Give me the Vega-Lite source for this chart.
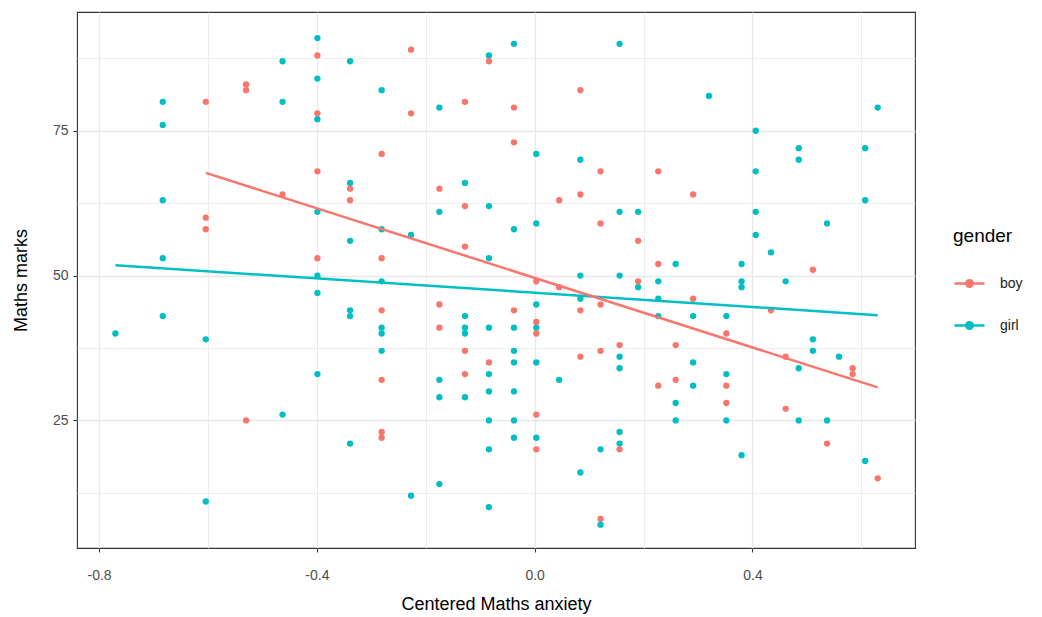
{
"$schema": "https://vega.github.io/schema/vega-lite/v6.json",
"width": 838, "height": 536,
"autosize": {"type": "none"},
"padding": {"left": 77, "top": 12, "right": 127, "bottom": 69},
"background": "white",
"config": {
  "font": "Liberation Sans",
  "view": {"stroke": "#333333", "strokeWidth": 1.1},
  "axis": {"domain": false, "grid": true, "gridColor": "#E8E8E8", "tickSize": 4, "tickWidth": 1.1, "labelColor": "#4D4D4D", "labelFontSize": 14, "titleFontSize": 18, "titleFontWeight": "normal", "titleColor": "#000000", "labelFont": "Liberation Sans", "titleFont": "Liberation Sans"},
  "legend": {"symbolType": "M-1,0L1,0M-0.22,0A0.22,0.22,0,1,1,0.22,0A0.22,0.22,0,1,1,-0.22,0Z"}
},
"datasets": {"d": [
{"anxiety":-0.77,"marks":40,"gender":"girl"},
{"anxiety":-0.683,"marks":80,"gender":"girl"},{"anxiety":-0.683,"marks":76,"gender":"girl"},{"anxiety":-0.683,"marks":63,"gender":"girl"},{"anxiety":-0.683,"marks":53,"gender":"girl"},{"anxiety":-0.683,"marks":43,"gender":"girl"},
{"anxiety":-0.604,"marks":80,"gender":"boy"},{"anxiety":-0.604,"marks":60,"gender":"boy"},{"anxiety":-0.604,"marks":58,"gender":"boy"},{"anxiety":-0.604,"marks":39,"gender":"girl"},{"anxiety":-0.604,"marks":11,"gender":"girl"},
{"anxiety":-0.53,"marks":83,"gender":"boy"},{"anxiety":-0.53,"marks":82,"gender":"boy"},{"anxiety":-0.53,"marks":25,"gender":"boy"},
{"anxiety":-0.463,"marks":87,"gender":"girl"},{"anxiety":-0.463,"marks":80,"gender":"girl"},{"anxiety":-0.463,"marks":26,"gender":"girl"},{"anxiety":-0.463,"marks":64,"gender":"boy"},
{"anxiety":-0.399,"marks":91,"gender":"girl"},{"anxiety":-0.399,"marks":84,"gender":"girl"},{"anxiety":-0.399,"marks":77,"gender":"girl"},{"anxiety":-0.399,"marks":61,"gender":"girl"},{"anxiety":-0.399,"marks":50,"gender":"girl"},{"anxiety":-0.399,"marks":47,"gender":"girl"},{"anxiety":-0.399,"marks":33,"gender":"girl"},{"anxiety":-0.399,"marks":88,"gender":"boy"},{"anxiety":-0.399,"marks":78,"gender":"boy"},{"anxiety":-0.399,"marks":68,"gender":"boy"},{"anxiety":-0.399,"marks":53,"gender":"boy"},
{"anxiety":-0.339,"marks":87,"gender":"girl"},{"anxiety":-0.339,"marks":66,"gender":"girl"},{"anxiety":-0.339,"marks":56,"gender":"girl"},{"anxiety":-0.339,"marks":44,"gender":"girl"},{"anxiety":-0.339,"marks":43,"gender":"girl"},{"anxiety":-0.339,"marks":21,"gender":"girl"},{"anxiety":-0.339,"marks":65,"gender":"boy"},{"anxiety":-0.339,"marks":63,"gender":"boy"},
{"anxiety":-0.281,"marks":82,"gender":"girl"},{"anxiety":-0.281,"marks":58,"gender":"girl"},{"anxiety":-0.281,"marks":49,"gender":"girl"},{"anxiety":-0.281,"marks":41,"gender":"girl"},{"anxiety":-0.281,"marks":40,"gender":"girl"},{"anxiety":-0.281,"marks":37,"gender":"girl"},{"anxiety":-0.281,"marks":71,"gender":"boy"},{"anxiety":-0.281,"marks":53,"gender":"boy"},{"anxiety":-0.281,"marks":44,"gender":"boy"},{"anxiety":-0.281,"marks":32,"gender":"boy"},{"anxiety":-0.281,"marks":23,"gender":"boy"},{"anxiety":-0.281,"marks":22,"gender":"boy"},
{"anxiety":-0.227,"marks":89,"gender":"boy"},{"anxiety":-0.227,"marks":78,"gender":"boy"},{"anxiety":-0.227,"marks":57,"gender":"girl"},{"anxiety":-0.227,"marks":12,"gender":"girl"},
{"anxiety":-0.175,"marks":79,"gender":"girl"},{"anxiety":-0.175,"marks":61,"gender":"girl"},{"anxiety":-0.175,"marks":32,"gender":"girl"},{"anxiety":-0.175,"marks":29,"gender":"girl"},{"anxiety":-0.175,"marks":14,"gender":"girl"},{"anxiety":-0.175,"marks":65,"gender":"boy"},{"anxiety":-0.175,"marks":45,"gender":"boy"},{"anxiety":-0.175,"marks":41,"gender":"boy"},
{"anxiety":-0.128,"marks":80,"gender":"boy"},{"anxiety":-0.128,"marks":62,"gender":"boy"},{"anxiety":-0.128,"marks":55,"gender":"boy"},{"anxiety":-0.128,"marks":37,"gender":"boy"},{"anxiety":-0.128,"marks":33,"gender":"boy"},{"anxiety":-0.128,"marks":66,"gender":"girl"},{"anxiety":-0.128,"marks":43,"gender":"girl"},{"anxiety":-0.128,"marks":41,"gender":"girl"},{"anxiety":-0.128,"marks":40,"gender":"girl"},{"anxiety":-0.128,"marks":29,"gender":"girl"},
{"anxiety":-0.084,"marks":88,"gender":"girl"},{"anxiety":-0.084,"marks":62,"gender":"girl"},{"anxiety":-0.084,"marks":53,"gender":"girl"},{"anxiety":-0.084,"marks":41,"gender":"girl"},{"anxiety":-0.084,"marks":33,"gender":"girl"},{"anxiety":-0.084,"marks":30,"gender":"girl"},{"anxiety":-0.084,"marks":25,"gender":"girl"},{"anxiety":-0.084,"marks":20,"gender":"girl"},{"anxiety":-0.084,"marks":10,"gender":"girl"},{"anxiety":-0.084,"marks":87,"gender":"boy"},{"anxiety":-0.084,"marks":35,"gender":"boy"},
{"anxiety":-0.038,"marks":90,"gender":"girl"},{"anxiety":-0.038,"marks":58,"gender":"girl"},{"anxiety":-0.038,"marks":41,"gender":"girl"},{"anxiety":-0.038,"marks":37,"gender":"girl"},{"anxiety":-0.038,"marks":35,"gender":"girl"},{"anxiety":-0.038,"marks":30,"gender":"girl"},{"anxiety":-0.038,"marks":25,"gender":"girl"},{"anxiety":-0.038,"marks":22,"gender":"girl"},{"anxiety":-0.038,"marks":79,"gender":"boy"},{"anxiety":-0.038,"marks":73,"gender":"boy"},{"anxiety":-0.038,"marks":44,"gender":"boy"},
{"anxiety":0.003,"marks":71,"gender":"girl"},{"anxiety":0.003,"marks":59,"gender":"girl"},{"anxiety":0.003,"marks":45,"gender":"girl"},{"anxiety":0.003,"marks":41,"gender":"girl"},{"anxiety":0.003,"marks":35,"gender":"girl"},{"anxiety":0.003,"marks":22,"gender":"girl"},{"anxiety":0.003,"marks":49,"gender":"boy"},{"anxiety":0.003,"marks":42,"gender":"boy"},{"anxiety":0.003,"marks":40,"gender":"boy"},{"anxiety":0.003,"marks":26,"gender":"boy"},{"anxiety":0.003,"marks":20,"gender":"boy"},
{"anxiety":0.045,"marks":63,"gender":"boy"},{"anxiety":0.045,"marks":48,"gender":"boy"},{"anxiety":0.045,"marks":32,"gender":"girl"},
{"anxiety":0.084,"marks":82,"gender":"boy"},{"anxiety":0.084,"marks":64,"gender":"boy"},{"anxiety":0.084,"marks":44,"gender":"boy"},{"anxiety":0.084,"marks":36,"gender":"boy"},{"anxiety":0.084,"marks":70,"gender":"girl"},{"anxiety":0.084,"marks":50,"gender":"girl"},{"anxiety":0.084,"marks":46,"gender":"girl"},{"anxiety":0.084,"marks":16,"gender":"girl"},
{"anxiety":0.121,"marks":68,"gender":"boy"},{"anxiety":0.121,"marks":59,"gender":"boy"},{"anxiety":0.121,"marks":45,"gender":"boy"},{"anxiety":0.121,"marks":37,"gender":"boy"},{"anxiety":0.121,"marks":8,"gender":"boy"},{"anxiety":0.121,"marks":20,"gender":"girl"},{"anxiety":0.121,"marks":7,"gender":"girl"},
{"anxiety":0.156,"marks":90,"gender":"girl"},{"anxiety":0.156,"marks":61,"gender":"girl"},{"anxiety":0.156,"marks":50,"gender":"girl"},{"anxiety":0.156,"marks":36,"gender":"girl"},{"anxiety":0.156,"marks":34,"gender":"girl"},{"anxiety":0.156,"marks":23,"gender":"girl"},{"anxiety":0.156,"marks":21,"gender":"girl"},{"anxiety":0.156,"marks":38,"gender":"boy"},{"anxiety":0.156,"marks":20,"gender":"boy"},
{"anxiety":0.19,"marks":61,"gender":"girl"},{"anxiety":0.19,"marks":48,"gender":"girl"},{"anxiety":0.19,"marks":56,"gender":"boy"},{"anxiety":0.19,"marks":49,"gender":"boy"},
{"anxiety":0.227,"marks":68,"gender":"boy"},{"anxiety":0.227,"marks":52,"gender":"boy"},{"anxiety":0.227,"marks":31,"gender":"boy"},{"anxiety":0.227,"marks":49,"gender":"girl"},{"anxiety":0.227,"marks":46,"gender":"girl"},{"anxiety":0.227,"marks":43,"gender":"girl"},
{"anxiety":0.259,"marks":52,"gender":"girl"},{"anxiety":0.259,"marks":28,"gender":"girl"},{"anxiety":0.259,"marks":25,"gender":"girl"},{"anxiety":0.259,"marks":38,"gender":"boy"},{"anxiety":0.259,"marks":32,"gender":"boy"},
{"anxiety":0.291,"marks":64,"gender":"boy"},{"anxiety":0.291,"marks":46,"gender":"boy"},{"anxiety":0.291,"marks":43,"gender":"girl"},{"anxiety":0.291,"marks":35,"gender":"girl"},{"anxiety":0.291,"marks":31,"gender":"girl"},
{"anxiety":0.32,"marks":81,"gender":"girl"},
{"anxiety":0.352,"marks":43,"gender":"girl"},{"anxiety":0.352,"marks":33,"gender":"girl"},{"anxiety":0.352,"marks":25,"gender":"girl"},{"anxiety":0.352,"marks":40,"gender":"boy"},{"anxiety":0.352,"marks":31,"gender":"boy"},{"anxiety":0.352,"marks":28,"gender":"boy"},
{"anxiety":0.38,"marks":52,"gender":"girl"},{"anxiety":0.38,"marks":49,"gender":"girl"},{"anxiety":0.38,"marks":48,"gender":"girl"},{"anxiety":0.38,"marks":19,"gender":"girl"},
{"anxiety":0.406,"marks":75,"gender":"girl"},{"anxiety":0.406,"marks":68,"gender":"girl"},{"anxiety":0.406,"marks":61,"gender":"girl"},{"anxiety":0.406,"marks":57,"gender":"girl"},
{"anxiety":0.434,"marks":54,"gender":"girl"},{"anxiety":0.434,"marks":44,"gender":"boy"},
{"anxiety":0.461,"marks":49,"gender":"girl"},{"anxiety":0.461,"marks":36,"gender":"boy"},{"anxiety":0.461,"marks":27,"gender":"boy"},
{"anxiety":0.485,"marks":72,"gender":"girl"},{"anxiety":0.485,"marks":70,"gender":"girl"},{"anxiety":0.485,"marks":34,"gender":"girl"},{"anxiety":0.485,"marks":25,"gender":"girl"},
{"anxiety":0.511,"marks":51,"gender":"boy"},{"anxiety":0.511,"marks":39,"gender":"girl"},{"anxiety":0.511,"marks":37,"gender":"girl"},
{"anxiety":0.537,"marks":59,"gender":"girl"},{"anxiety":0.537,"marks":25,"gender":"girl"},{"anxiety":0.537,"marks":21,"gender":"boy"},
{"anxiety":0.559,"marks":36,"gender":"girl"},
{"anxiety":0.584,"marks":34,"gender":"boy"},{"anxiety":0.584,"marks":33,"gender":"boy"},
{"anxiety":0.607,"marks":72,"gender":"girl"},{"anxiety":0.607,"marks":63,"gender":"girl"},{"anxiety":0.607,"marks":18,"gender":"girl"},
{"anxiety":0.63,"marks":79,"gender":"girl"},{"anxiety":0.63,"marks":15,"gender":"boy"}
]},
"data": {"name": "d"},
"layer": [
  {
    "mark": {"type": "point", "filled": true, "opacity": 1, "size": 40},
    "encoding": {
      "x": {"field": "anxiety", "type": "quantitative",
        "scale": {"domain": [-0.8405, 0.6985], "nice": false, "zero": false},
        "axis": {"values": [-0.8, -0.6, -0.4, -0.2, 0, 0.2, 0.4, 0.6], "format": ".1f",
          "labelExpr": "abs(round(datum.value*5)) % 2 == 1 ? '' : replace(datum.label, '\u2212', '-')",
          "tickColor": {"condition": {"test": "abs(round(datum.value*5)) % 2 == 1", "value": "transparent"}, "value": "#333333"},
          "gridWidth": {"condition": {"test": "abs(round(datum.value*5)) % 2 == 1", "value": 0.8}, "value": 1.3},
          "title": "Centered Maths anxiety", "labelPadding": 16, "titlePadding": 13}},
      "y": {"field": "marks", "type": "quantitative",
        "scale": {"domain": [2.97, 95.5], "nice": false, "zero": false},
        "axis": {"values": [12.5, 25, 37.5, 50, 62.5, 75, 87.5],
          "labelExpr": "round(datum.value/12.5) % 2 == 1 ? '' : datum.label",
          "tickColor": {"condition": {"test": "round(datum.value/12.5) % 2 == 1", "value": "transparent"}, "value": "#333333"},
          "gridWidth": {"condition": {"test": "round(datum.value/12.5) % 2 == 1", "value": 0.8}, "value": 1.3},
          "title": "Maths marks", "labelPadding": 5, "titlePadding": 22}},
      "color": {"field": "gender", "type": "nominal",
        "scale": {"domain": ["boy", "girl"], "range": ["#F8766D", "#00BFC4"]},
        "legend": {"title": "gender", "orient": "none", "legendX": 876, "legendY": 215, "symbolSize": 900, "symbolStrokeWidth": 2.5, "labelFontSize": 14, "titleFontSize": 19, "titleFontWeight": "normal", "titleColor": "#000000", "labelColor": "#1A1A1A", "rowPadding": 17, "titlePadding": 21, "labelOffset": 14, "symbolOpacity": 1}}
    }
  },
  {
    "transform": [{"regression": "marks", "on": "anxiety", "groupby": ["gender"]}],
    "mark": {"type": "line", "strokeWidth": 2.5},
    "encoding": {
      "x": {"field": "anxiety", "type": "quantitative"},
      "y": {"field": "marks", "type": "quantitative"},
      "color": {"field": "gender", "type": "nominal"}
    }
  }
]
}
